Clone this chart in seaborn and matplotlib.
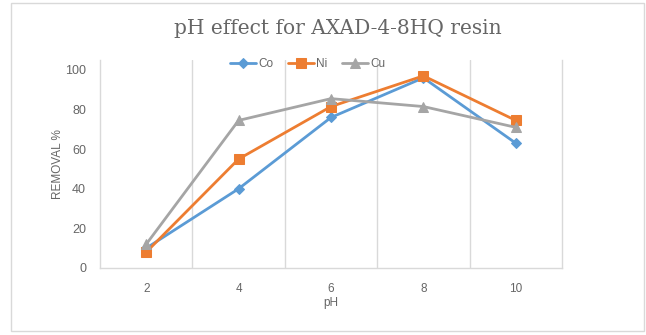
import matplotlib
matplotlib.use("Agg")
import matplotlib.pyplot as plt
import seaborn as sns
import pandas as pd
from matplotlib.patches import Rectangle

ph_labels = ["2", "4", "6", "8", "10"]
co = [10, 40, 76, 96, 63]
ni = [8, 55, 81.5, 97, 74.5]
cu = [12, 74.5, 85.5, 81.5, 71]
y_ticks = [0, 20, 40, 60, 80, 100]

df = pd.DataFrame({
    "pH": ph_labels * 3,
    "removal": co + ni + cu,
    "metal": ["Co"] * 5 + ["Ni"] * 5 + ["Cu"] * 5,
})

sns.set_theme(style="white")
plt.rcParams['font.family'] = ['Liberation Sans', 'DejaVu Sans']

fig = plt.figure(figsize=(6.46, 3.35), dpi=100)
ax = fig.add_axes([100/646, 1-268/335, (562-100)/646, (268-60)/335])

palette = {"Co": "#5B9BD5", "Ni": "#ED7D31", "Cu": "#A5A5A5"}
markers = {"Co": "D", "Ni": "s", "Cu": "^"}
sizes = {"Co": 5, "Ni": 7.5, "Cu": 7.5}
for m in ["Co", "Ni", "Cu"]:
    sub = df[df.metal == m]
    sns.lineplot(data=sub, x="pH", y="removal", ax=ax, color=palette[m],
                 marker=markers[m], markersize=sizes[m], markeredgecolor=palette[m],
                 linewidth=2, label=m, sort=False)

ax.set_xlim(-0.5, 4.5)
ax.set_ylim(0, 105)
ax.set_yticks(y_ticks)
ax.set_xticks(range(len(ph_labels)))
ax.set_xticklabels(ph_labels)
ax.set_xticks([0.5, 1.5, 2.5, 3.5], minor=True)
ax.grid(False)
ax.grid(True, which="minor", axis="x", color="#D9D9D9", linewidth=1)
ax.tick_params(which="both", length=0)
ax.tick_params(axis="y", labelsize=9, labelcolor="#666666", pad=10)
ax.tick_params(axis="x", labelsize=8.5, labelcolor="#666666", pad=11)
ax.spines["top"].set_visible(False)
for s in ["left", "right", "bottom"]:
    ax.spines[s].set_color("#D9D9D9")
    ax.spines[s].set_linewidth(1)
ax.set_xlabel("pH", fontsize=8.5, color="#666666", labelpad=1)
ax.set_ylabel("REMOVAL %", fontsize=8.5, color="#666666", labelpad=1)

leg = ax.legend(loc="upper center", bbox_to_anchor=(0.45, 1.06), ncol=3, frameon=False,
                fontsize=8.5, handlelength=2.2, handletextpad=0.2, columnspacing=1.2)
for t in leg.get_texts():
    t.set_color("#666666")

fig.text(338/646, 1-29/335, "pH effect for AXAD-4-8HQ resin", ha="center", va="center",
         fontsize=14.5, color="#666666", family="DejaVu Serif")

fig.patches.append(Rectangle((11/646, 4/335), (644-11)/646, (332-4)/335, transform=fig.transFigure,
                             fill=False, edgecolor="#D9D9D9", linewidth=1))

fig.savefig("out.png", dpi=100)
